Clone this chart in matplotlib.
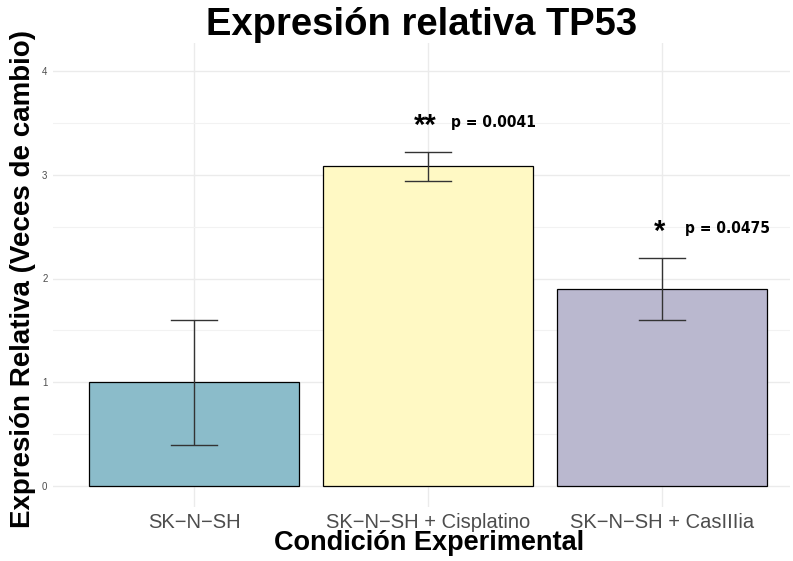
import matplotlib
matplotlib.use("Agg")
import matplotlib.pyplot as plt
import numpy as np

categories = ["SK\u2212N\u2212SH", "SK\u2212N\u2212SH + Cisplatino", "SK\u2212N\u2212SH + CasIIIia"]
means = [1.00, 3.08, 1.90]
sds = [0.60, 0.14, 0.30]
colors = ["#8BBCCA", "#FFF9C4", "#BAB8CF"]
stars = ["", "**", "*"]
pvals = ["", "p = 0.0041", "p = 0.0475"]
yticks = [0, 1, 2, 3, 4]

W, H = 793, 561
fig = plt.figure(figsize=(W / 100, H / 100), dpi=100)
L, R, T, B = 53, 790, 43, 507
ax = fig.add_axes([L / W, 1 - B / H, (R - L) / W, (B - T) / H])

x = np.arange(len(categories))
ax.set_axisbelow(True)
ax.bar(x, means, width=0.9, color=colors, edgecolor="black", linewidth=0.9, zorder=2)
ax.errorbar(x, means, yerr=sds, fmt="none", ecolor="#333333", elinewidth=1.0,
            capsize=0, zorder=3)
for xi, m, s in zip(x, means, sds):
    ax.plot([xi - 0.1, xi + 0.1], [m + s, m + s], color="#333333", lw=1.0, zorder=3)
    ax.plot([xi - 0.1, xi + 0.1], [m - s, m - s], color="#333333", lw=1.0, zorder=3)

for xi, m, s, st, pv in zip(x, means, sds, stars, pvals):
    if not st:
        continue
    yy = m + s + 0.28
    ax.text(xi - 0.01, yy - 0.03, st, ha="center", va="center", fontsize=21,
            fontweight="bold", family="Liberation Sans", zorder=4)
    ax.text(xi + 0.1, yy, pv, ha="left", va="center", fontsize=11.2,
            fontweight="bold", family="DejaVu Sans", fontstretch="condensed", zorder=4)

ax.set_xlim(-(194 - L) / 234, 2 + (R - 662) / 234)
ax.set_ylim(-(B - 486) / 103.75, (486 - T) / 103.75)
ax.set_yticks(yticks)
ax.set_yticks(np.arange(0.5, 4.5, 1.0), minor=True)
ax.set_xticks(x)
ax.set_xticklabels(categories, fontsize=14.5, color="#4D4D4D", family="Liberation Sans")
ax.set_yticklabels([str(v) for v in yticks], fontsize=7, color="#4D4D4D",
                   family="Liberation Sans")
ax.tick_params(axis="both", which="both", length=0)
ax.tick_params(axis="x", pad=4)
ax.tick_params(axis="y", pad=4)
ax.grid(True, which="major", color="#EBEBEB", lw=1.0)
ax.grid(True, which="minor", axis="y", color="#F2F2F2", lw=0.8)
for sp in ax.spines.values():
    sp.set_visible(False)

ax.set_xlabel("Condición Experimental", fontsize=19.5, fontweight="bold",
              family="Liberation Sans", va="center")
ax.xaxis.set_label_coords((429 - L) / (R - L), (B - 543) / (B - T))
ax.set_ylabel("Expresión Relativa (Veces de cambio)", fontsize=20, fontweight="bold",
              family="Liberation Sans", va="center")
ax.yaxis.set_label_coords((23 - L) / (R - L), (B - 279) / (B - T))
fig.text((L + R) / 2 / W, 1 - 25 / H, "Expresión relativa TP53", ha="center", va="center",
         fontsize=27.5, fontweight="bold", family="Liberation Sans")

fig.savefig("out.png", dpi=100)
